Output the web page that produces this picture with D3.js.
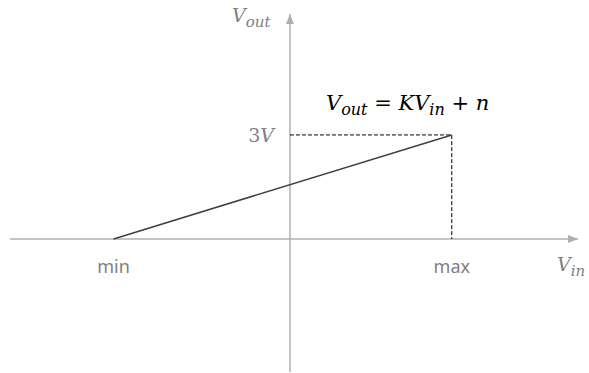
<!DOCTYPE html>
<html>
<head>
<meta charset="utf-8">
<script src="https://cdn.jsdelivr.net/npm/d3@7"></script>
<style>
  body { margin: 0; background: #fff; }
  .math { font-family: "DejaVu Serif", "Liberation Serif", serif; font-style: italic; }
  .lbl { font-family: "Noto Sans", "Open Sans", sans-serif; }
</style>
</head>
<body>
<svg id="chart" width="589" height="373"></svg>
<script>
// transfer characteristic Vout = K*Vin + n
const xTicks = [{ label: 'min', value: -1.09 }, { label: 'max', value: 1 }]
const yTicks = [{ label: '3V', value: 3 }]
const lineX = [-1.09, 1]
const lineY = [0, 3]

const svg = d3.select('#chart')

const xScale = d3.scaleLinear()
  .domain([-1.73, 1.78])
  .range([10, 578])

const yScale = d3.scaleLinear()
  .domain([-3.84, 6.49])
  .range([372, 14])

const axisColor = '#b0b0b0'

svg.append('defs').append('marker')
    .attr('id', 'arrow')
    .attr('viewBox', '0 0 10 10')
    .attr('refX', 10)
    .attr('refY', 5)
    .attr('markerWidth', 10)
    .attr('markerHeight', 10)
    .attr('markerUnits', 'userSpaceOnUse')
    .attr('orient', 'auto')
  .append('path')
    .attr('d', 'M0,1 L10,5 L0,9 Z')
    .attr('fill', axisColor)

// x axis
svg.append('line')
  .attr('x1', xScale.range()[0]).attr('x2', xScale.range()[1])
  .attr('y1', yScale(0)).attr('y2', yScale(0))
  .attr('stroke', axisColor)
  .attr('stroke-width', 1.5)
  .attr('marker-end', 'url(#arrow)')

// y axis
svg.append('line')
  .attr('x1', xScale(0)).attr('x2', xScale(0))
  .attr('y1', yScale.range()[0]).attr('y2', yScale.range()[1])
  .attr('stroke', axisColor)
  .attr('stroke-width', 1.5)
  .attr('marker-end', 'url(#arrow)')

// dashed guides to the max point
const px = xScale(lineX[1]), py = yScale(lineY[1])
svg.append('path')
  .attr('d', `M${xScale(0)},${py} H${px} V${yScale(0)}`)
  .attr('fill', 'none')
  .attr('stroke', '#000')
  .attr('stroke-width', 1)
  .attr('stroke-dasharray', '4,2')

// the line itself
svg.append('line')
  .attr('x1', xScale(lineX[0])).attr('y1', yScale(lineY[0]))
  .attr('x2', px).attr('y2', py)
  .attr('stroke', '#404040')
  .attr('stroke-width', 1.5)

// tick labels
svg.selectAll('.xlbl')
  .data(xTicks)
  .enter()
  .append('text')
    .attr('class', 'lbl')
    .attr('x', d => xScale(d.value))
    .attr('y', yScale(0) + 34)
    .attr('text-anchor', 'middle')
    .attr('fill', '#808080')
    .style('font-size', '18px')
    .text(d => d.label)

const ylbl = svg.selectAll('.ylbl')
  .data(yTicks)
  .enter()
  .append('text')
    .attr('class', 'math')
    .attr('x', xScale(0) - 16)
    .attr('y', d => yScale(d.value) + 7)
    .attr('text-anchor', 'end')
    .attr('fill', '#808080')
    .style('font-size', '19px')
ylbl.append('tspan').style('font-style', 'normal').text(d => d.label.slice(0, -1))
ylbl.append('tspan').text(d => d.label.slice(-1))

// axis names
function sub(sel, main, s) {
  sel.append('tspan').text(main)
  sel.append('tspan').attr('dy', 5).style('font-size', '15px').text(s)
}

const vin = svg.append('text')
  .attr('class', 'math')
  .attr('x', 557)
  .attr('y', yScale(0) + 32)
  .attr('fill', '#808080')
  .style('font-size', '19px')
sub(vin, 'V', 'in')

const vout = svg.append('text')
  .attr('class', 'math')
  .attr('x', 232)
  .attr('y', 22)
  .attr('fill', '#808080')
  .style('font-size', '19px')
sub(vout, 'V', 'out')

// equation
const eq = svg.append('text')
  .attr('class', 'math')
  .attr('x', 326)
  .attr('y', 110)
  .attr('fill', '#000')
  .style('font-size', '21px')
eq.append('tspan').text('V')
eq.append('tspan').attr('dy', 5).style('font-size', '16px').text('out')
eq.append('tspan').attr('dy', -5).style('font-style', 'normal').text(' = ')
eq.append('tspan').text('KV')
eq.append('tspan').attr('dy', 5).style('font-size', '16px').text('in')
eq.append('tspan').attr('dy', -5).style('font-style', 'normal').text(' + ')
eq.append('tspan').text('n')
</script>
</body>
</html>
